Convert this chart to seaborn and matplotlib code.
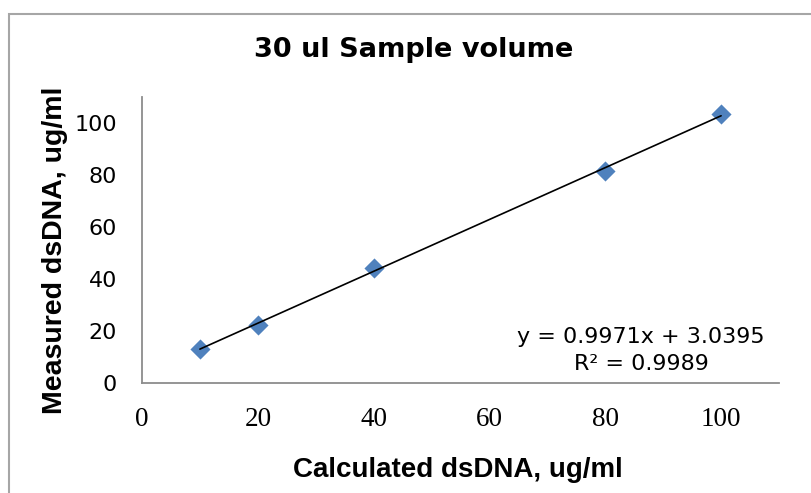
import matplotlib
matplotlib.use("Agg")
import matplotlib.pyplot as plt
import matplotlib.patches as patches
import numpy as np
import pandas as pd
import seaborn as sns

# values
calculated = [10, 20, 40, 80, 100]
measured = [12.9, 22.5, 44.3, 81.4, 103.5]
x_ticks = [0, 20, 40, 60, 80, 100]
y_ticks = [0, 20, 40, 60, 80, 100]
title = "30 ul Sample volume"
x_label = "Calculated dsDNA, ug/ml"
y_label = "Measured dsDNA, ug/ml"
eq_text = "y = 0.9971x + 3.0395"
r2_text = "R² = 0.9989"

df = pd.DataFrame({"calc": calculated, "meas": measured})

sns.set_style("white")
plt.rcParams["font.family"] = ["DejaVu Sans"]
plt.rcParams["text.color"] = "black"
plt.rcParams["xtick.color"] = "black"
plt.rcParams["ytick.color"] = "black"

W, H = 812, 493
fig = plt.figure(figsize=(W / 100, H / 100), dpi=100)
ax = fig.add_axes([142 / W, 1 - 383 / H, (779 - 142) / W, (383 - 97) / H])

sns.regplot(data=df, x="calc", y="meas", ax=ax, ci=None,
            marker="D",
            scatter_kws={"s": 105, "color": "#4F81BD", "linewidths": 0, "alpha": 1},
            line_kws={"color": "black", "lw": 1.2})

ax.set_xlim(0, 110)
ax.set_ylim(0, 110)
ax.set_xticks(x_ticks)
ax.set_yticks(y_ticks)
ax.set_xticklabels([str(t) for t in x_ticks], family="Liberation Serif", fontsize=19.5)
ax.set_yticklabels([str(t) for t in y_ticks], family="DejaVu Sans", fontsize=16)
ax.tick_params(axis="x", length=0, pad=17, labelcolor="black")
ax.tick_params(axis="y", length=0, pad=18, labelcolor="black")
ax.set_xlabel("")
ax.set_ylabel("")

for side in ["top", "right"]:
    ax.spines[side].set_visible(False)
for side in ["left", "bottom"]:
    ax.spines[side].set_color("#8C8C8C")
    ax.spines[side].set_linewidth(1.3)

fig.text(414 / W, 1 - 57 / H, title, ha="center", va="baseline", color="black",
         fontsize=19.5, fontweight="bold", family="DejaVu Sans")
fig.text(458 / W, 1 - 477 / H, x_label, ha="center", va="baseline", color="black",
         fontsize=20, fontweight="bold", family="Liberation Sans")
fig.text(55 / W, 1 - 250 / H, y_label, ha="center", va="center", rotation=90,
         color="black", fontsize=20.5, fontweight="bold", family="Liberation Sans")
fig.text(641 / W, 1 - 343 / H, eq_text, ha="center", va="baseline", color="black", fontsize=16)
fig.text(641 / W, 1 - 370 / H, r2_text, ha="center", va="baseline", color="black", fontsize=16)

# chart area border (cut off at right and bottom like the reference)
fig.patches.append(patches.Rectangle((9 / W, -0.1), 1.2, 1.1 - 14.5 / H,
                                     transform=fig.transFigure, fill=False,
                                     edgecolor="#A6A6A6", lw=1.5))

fig.savefig("out.png", dpi=100)
